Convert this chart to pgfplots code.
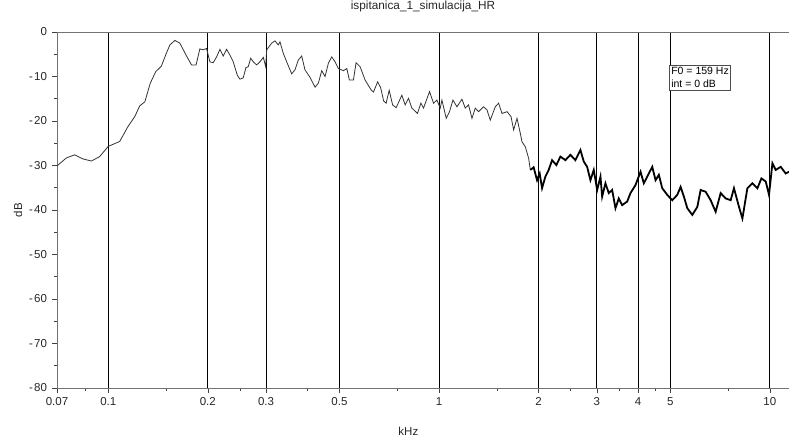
\documentclass[border=0pt]{standalone}
\usepackage{pgfplots}
\pgfplotsset{compat=1.18}
\usepackage{pgfplotstable}
\usepackage{fontspec}
\setmainfont{Liberation Sans}
\newcommand{\mn}{-\kern1.3pt}

\pgfplotstableread{
f db
0.0700 -30.1
0.0747 -28.3
0.0792 -27.6
0.0837 -28.5
0.0889 -29.0
0.0942 -28.0
0.1000 -25.7
0.1083 -24.6
0.1146 -21.3
0.1203 -19.0
0.1245 -16.6
0.1290 -15.7
0.1340 -11.5
0.1392 -8.9
0.1447 -7.7
0.1498 -4.8
0.1536 -2.9
0.1590 -1.9
0.1646 -2.5
0.1725 -5.4
0.1786 -7.4
0.1843 -7.4
0.1892 -3.8
0.1936 -4.0
0.1983 -3.7
0.2029 -6.7
0.2076 -6.9
0.2126 -5.6
0.2176 -3.9
0.2226 -5.4
0.2280 -3.9
0.2333 -5.2
0.2387 -6.7
0.2455 -9.7
0.2501 -10.6
0.2559 -10.3
0.2608 -8.0
0.2650 -7.8
0.2695 -5.9
0.2744 -6.7
0.2810 -7.4
0.2876 -6.7
0.2943 -5.7
0.2992 -7.8
0.3013 -4.0
0.3120 -2.5
0.3192 -2.0
0.3267 -2.9
0.3305 -2.2
0.3382 -4.8
0.3463 -6.7
0.3586 -9.4
0.3669 -8.5
0.3755 -6.3
0.3845 -5.4
0.3934 -8.5
0.4074 -10.2
0.4219 -12.4
0.4317 -11.5
0.4420 -8.7
0.4523 -10.0
0.4629 -7.0
0.4740 -5.6
0.4850 -6.7
0.4963 -8.2
0.5140 -8.7
0.5263 -8.2
0.5358 -10.8
0.5510 -10.8
0.5614 -6.9
0.5773 -7.8
0.5978 -10.8
0.6233 -13.0
0.6335 -13.5
0.6523 -11.2
0.6661 -12.5
0.6802 -15.5
0.6921 -16.0
0.7068 -13.1
0.7242 -16.4
0.7421 -17.0
0.7603 -15.3
0.7722 -14.2
0.7902 -16.4
0.8086 -14.9
0.8278 -17.1
0.8609 -18.3
0.8815 -16.0
0.8977 -17.1
0.9360 -13.4
0.9625 -16.0
0.9855 -15.3
1.0084 -17.1
1.0204 -15.3
1.0514 -19.4
1.0759 -17.9
1.1017 -15.3
1.1329 -16.8
1.1729 -15.1
1.2003 -17.1
1.2282 -16.4
1.2577 -19.4
1.2870 -17.1
1.3169 -17.9
1.3635 -16.8
1.3963 -17.5
1.4288 -19.8
1.4794 -16.8
1.5138 -16.0
1.5502 -18.3
1.6054 -17.9
1.6507 -19.0
1.6810 -22.0
1.7210 -19.4
1.7612 -22.8
1.7824 -24.7
1.8239 -25.8
1.8664 -28.4
1.8884 -31.0
}\lowpart

\pgfplotstableread{
f db
1.8884 -31.0
1.9324 -30.4
1.9788 -33.3
2.0151 -31.8
2.0489 -35.1
2.0966 -32.5
2.1454 -31.0
2.1968 -28.8
2.2636 -29.9
2.3275 -28.0
2.4099 -28.8
2.4956 -27.6
2.5841 -28.8
2.6760 -26.5
2.7384 -29.1
2.8041 -30.3
2.8694 -33.3
2.9361 -31.0
3.0066 -35.5
3.0766 -32.5
3.1129 -37.0
3.1854 -34.0
3.2596 -36.2
3.3377 -35.5
3.4154 -39.6
3.4950 -37.4
3.5787 -38.9
3.7060 -38.1
3.7924 -36.2
3.9268 -34.4
4.0665 -31.4
4.1605 -34.0
4.2604 -32.5
4.4119 -30.3
4.5146 -33.3
4.6198 -32.1
4.7295 -35.1
4.8977 -36.6
5.0714 -37.8
5.2516 -36.6
5.3740 -34.8
5.4991 -37.0
5.6310 -39.6
5.8312 -41.1
6.0379 -39.3
6.1783 -35.5
6.3979 -35.9
6.6251 -37.8
6.8599 -40.4
7.1036 -36.2
7.3554 -37.4
7.6169 -37.8
7.7926 -35.1
8.0700 -39.3
8.2633 -41.9
8.5559 -35.1
8.8589 -34.0
9.1739 -35.1
9.4330 -32.9
9.7200 -33.6
9.9448 -36.6
10.184 -29.5
10.419 -31.0
10.790 -30.3
11.172 -31.8
11.432 -31.4
}\highpart

\begin{document}
\begin{tikzpicture}
\begin{axis}[
  at={(0pt,0pt)}, anchor=south west,
  scale only axis, width=732pt, height=356pt,
  xmode=log, xmin=0.07, xmax=11.43, ymin=-80, ymax=0,
  xtick={0.07,0.1,0.2,0.3,0.5,1,2,3,4,5,10},
  xticklabels={0.07,0.1,0.2,0.3,0.5,1,2,3,4,5,10},
  minor xtick={0.085,0.15,0.25,0.4,0.75,1.5,2.5,3.5,4.5,7.5},
  ytick={-80,-70,-60,-50,-40,-30,-20,-10,0},
  yticklabels={\mn80,\mn70,\mn60,\mn50,\mn40,\mn30,\mn20,\mn10,0},
  minor ytick={-75,-65,-55,-45,-35,-25,-15,-5},
  xtick pos=bottom, ytick pos=left,
  tick align=outside,
  major tick length=5pt, minor tick length=3pt,
  tick style={draw=black!75, line width=0.6pt},
  xmajorgrids, major x grid style={draw=black, line width=0.8pt},
  axis line style={draw=black!55, line width=0.8pt},
  ticklabel style={font=\fontsize{11.5}{13}\selectfont, text=black!85},
  xticklabel style={yshift=-1pt},
  yticklabel style={xshift=-1.5pt},
  title={ispitanica\_1\_simulacija\_HR},
  title style={at={(0.5,1)}, anchor=base, yshift=16pt, font=\fontsize{11.8}{14}\selectfont, text=black!85},
  xlabel={kHz},
  xlabel style={at={(axis description cs:0.48,0)}, anchor=base, yshift=-48pt, font=\fontsize{11.5}{13}\selectfont, text=black!85},
  ylabel={dB},
  ylabel style={at={(axis description cs:0,0.5)}, anchor=center, yshift=39pt, font=\fontsize{11.5}{13}\selectfont, text=black!85},
  clip=true,
]
\addplot[black!80, line width=0.8pt] table[x=f, y=db] {\lowpart};
\addplot[black, line width=1.8pt] table[x=f, y=db] {\highpart};
\node[draw=black!70, line width=0.7pt, anchor=north west, align=left, inner sep=2pt,
      font=\fontsize{10.5}{13}\selectfont, fill=white]
  at (rel axis cs:0.836,0.907) {F0 = 159 Hz\\int = 0 dB};
\end{axis}
\pgfresetboundingbox
\path[use as bounding box] (-57pt,-58pt) rectangle (732pt,388pt);
\end{tikzpicture}
\end{document}
